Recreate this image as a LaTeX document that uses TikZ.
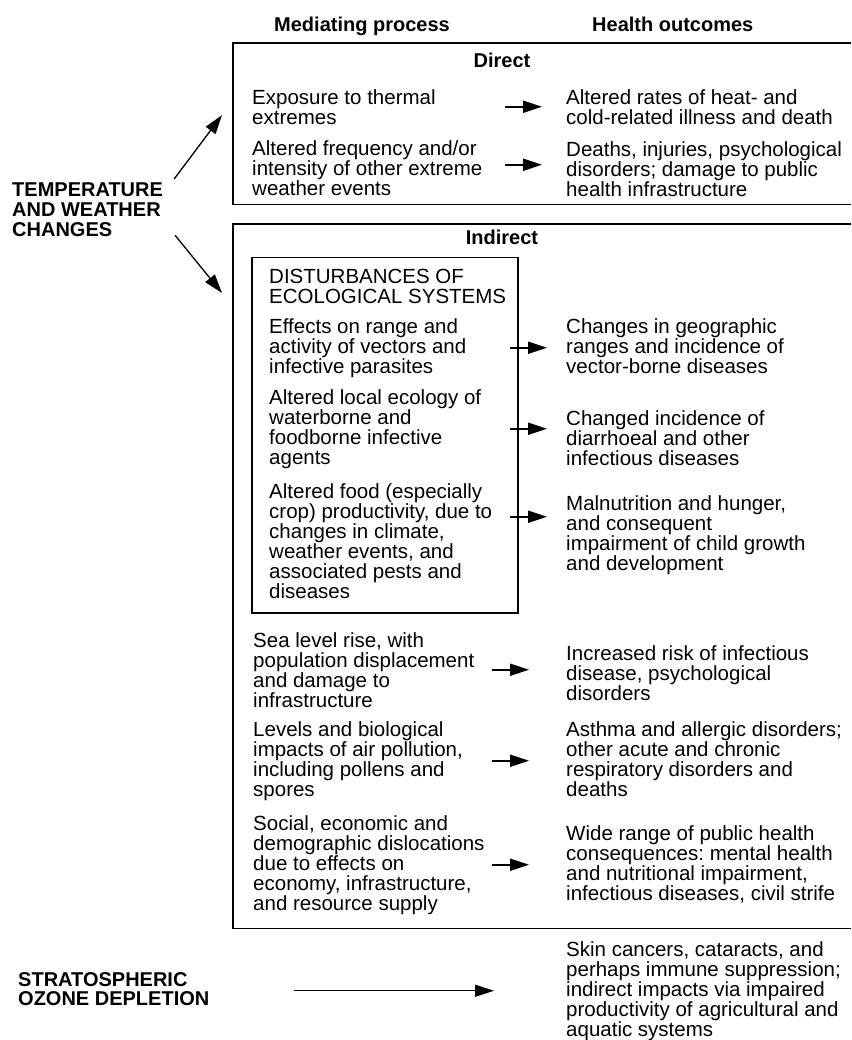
\documentclass[tikz,border=0pt]{standalone}
\usepackage{fontspec}
\setmainfont{Liberation Sans}
\usetikzlibrary{arrows.meta,calc}
\frenchspacing

\begin{document}
\begin{tikzpicture}[x=1pt, y=-1pt,
  every node/.style={inner sep=0pt},
  frame/.style={anchor=north west},
  edge/.style={line width=1.5pt},
  proc/.style={align=left, anchor=north west, font=\fontsize{20.5}{20}\selectfont},
  outc/.style={proc},
  hd/.style={font=\bfseries\fontsize{20}{20}\selectfont},
  cause/.style={align=left, anchor=north west, font=\bfseries\fontsize{20}{20}\selectfont},
  arr/.style={-{Triangle[length=19pt, width=12pt]}, line width=2pt},
  longarr/.style={-{Triangle[length=19pt, width=12pt]}, line width=1.3pt}
]
\useasboundingbox (0,0) rectangle (851,1040);

% column heads
\node[hd, anchor=base west] (hmed) at (274,32) {Mediating process};
\node[hd, anchor=base west] (hout) at (592,32) {Health outcomes};

% frames (open to the right, cut by the page edge)
\node[frame, minimum width=618pt, minimum height=161pt] (direct) at (233,43) {};
\node[frame, minimum width=618pt, minimum height=704pt] (indirect) at (233,224) {};
\node[frame, draw, line width=1.5pt, minimum width=266pt, minimum height=355pt] (eco) at (251,257) {};
\draw[edge] (direct.north east) -| (direct.south west) -- (direct.south east);
\draw[edge] (indirect.north east) -| (indirect.south west) -- (indirect.south east);

\node[hd, anchor=base] (ldirect) at (502,68) {Direct};
\node[hd, anchor=base] (lindirect) at (502,245) {Indirect};

% causes
\node[cause] (temp) at (12,183) {TEMPERATURE\\AND WEATHER\\CHANGES};
\node[cause, font=\bfseries\fontsize{20}{19}\selectfont] (ozone) at (18,972) {STRATOSPHERIC\\OZONE DEPLETION};

% direct effects
\node[proc] (p1) at (252,89) {Exposure to thermal\\extremes};
\node[outc] (o1) at (566,89) {Altered rates of heat- and\\cold-related illness and death};
\node[proc] (p2) at (252,140) {Altered frequency and/or\\intensity of other extreme\\weather events};
\node[outc] (o2) at (566,141) {Deaths, injuries, psychological\\disorders; damage to public\\health infrastructure};

% ecological disturbances
\node[proc] (dis) at (269,269) {DISTURBANCES OF\\ECOLOGICAL SYSTEMS};
\node[proc] (p3) at (269,318) {Effects on range and\\activity of vectors and\\infective parasites};
\node[outc] (o3) at (566,318) {Changes in geographic\\ranges and incidence of\\vector-borne diseases};
\node[proc] (p4) at (269,389) {Altered local ecology of\\waterborne and\\foodborne infective\\agents};
\node[outc] (o4) at (566,410) {Changed incidence of\\diarrhoeal and other\\infectious diseases};
\node[proc] (p5) at (269,483) {Altered food (especially\\crop) productivity, due to\\changes in climate,\\weather events, and\\associated pests and\\diseases};
\node[outc] (o5) at (566,495) {Malnutrition and hunger,\\and consequent\\impairment of child growth\\and development};

% other indirect effects
\node[proc] (p6) at (253,632) {Sea level rise, with\\population displacement\\and damage to\\infrastructure};
\node[outc] (o6) at (566,645) {Increased risk of infectious\\disease, psychological\\disorders};
\node[proc] (p7) at (253,721) {Levels and biological\\impacts of air pollution,\\including pollens and\\spores};
\node[outc] (o7) at (566,721) {Asthma and allergic disorders;\\other acute and chronic\\respiratory disorders and\\deaths};
\node[proc] (p8) at (253,815) {Social, economic and\\demographic dislocations\\due to effects on\\economy, infrastructure,\\and resource supply};
\node[outc] (o8) at (566,825) {Wide range of public health\\consequences: mental health\\and nutritional impairment,\\infectious diseases, civil strife};

\node[outc] (o9) at (566,941) {Skin cancers, cataracts, and\\perhaps immune suppression;\\indirect impacts via impaired\\productivity of agricultural and\\aquatic systems};

% arrows
\draw[longarr] ([shift={(11,-4)}]temp.north east) -- ([shift={(-11,-8.5)}]direct.west);
\draw[longarr] ([shift={(12,-2)}]temp.south east) -- ([shift={(-11,69)}]indirect.north west);

\draw[arr] (p1.east -| o1.west) ++(-61,0) -- ++(37,0);
\draw[arr] (p2.east -| o2.west) ++(-61,-3) -- ++(37,0);
\draw[arr] (p3.east -| o3.west) ++(-56,0) -- ++(37,0);
\draw[arr] (p4.east -| o4.west) ++(-56,0) -- ++(37,0);
\draw[arr] (p5.east -| o5.west) ++(-56,-24) -- ++(37,0);
\draw[arr] (p6.east -| o6.west) ++(-74,0) -- ++(37,0);
\draw[arr] (p7.east -| o7.west) ++(-74,0) -- ++(37,0);
\draw[arr] (p8.east -| o8.west) ++(-74,0) -- ++(37,0);

\draw[longarr, shorten <=84pt, shorten >=72pt] (ozone.east |- o9.west) -- (o9.west);
\end{tikzpicture}
\end{document}
